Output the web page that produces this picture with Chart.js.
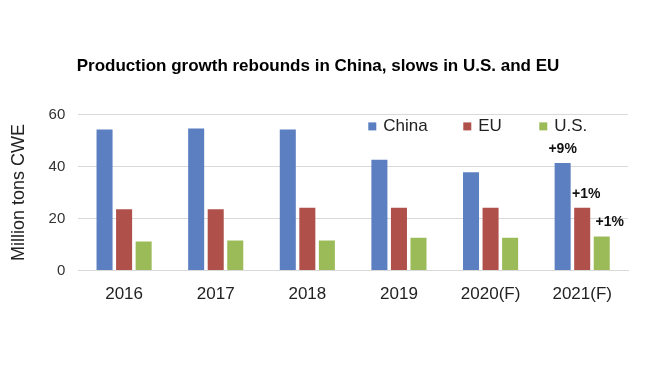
<!DOCTYPE html>
<html>
<head>
<meta charset="utf-8">
<script src="https://cdn.jsdelivr.net/npm/chart.js@4/dist/chart.umd.min.js"></script>
<style>
  body { margin: 0; background: #fff; }
  #wrap { width: 650px; height: 366px; }
</style>
</head>
<body>
<div id="wrap"><canvas id="chart" width="650" height="366"></canvas></div>
<script>
// chart data
const years = ['2016', '2017', '2018', '2019', '2020(F)', '2021(F)'];
const china = [54.2, 54.6, 54.2, 42.6, 37.8, 41.3];
const eu = [23.6, 23.6, 24.1, 24.1, 24.1, 24.1];
const us = [11.2, 11.6, 11.6, 12.6, 12.6, 13.1];
const chinaNotes = ['', '', '', '', '', '+9%'];
const euNotes = ['', '', '', '', '', '+1%'];
const usNotes = ['', '', '', '', '', '+1%'];
const yTicks = [0, 20, 40, 60];

const font = "'Liberation Sans', Arial, sans-serif";

// legend drawn inside the plot, top right
const insideLegend = {
    id: 'insideLegend',
    afterDraw(chart) {
        const ctx = chart.ctx;
        const area = chart.chartArea;
        const y = area.top + 12;
        const xs = [area.left + 290, area.left + 385, area.left + 461];
        ctx.save();
        ctx.font = '17px ' + font;
        ctx.textBaseline = 'middle';
        chart.data.datasets.forEach(function(ds, i) {
            ctx.fillStyle = ds.backgroundColor;
            ctx.fillRect(xs[i], y - 4, 8, 8);
            ctx.fillStyle = '#222';
            ctx.fillText(ds.label, xs[i] + 15, y);
        });
        ctx.restore();
    }
};

// growth notes above the 2021 bars
const barNotes = {
    id: 'barNotes',
    afterDatasetsDraw(chart) {
        const ctx = chart.ctx;
        const notes = [chinaNotes, euNotes, usNotes];
        const shift = [0, 4, 8];
        ctx.save();
        ctx.font = 'bold 14px ' + font;
        ctx.fillStyle = '#111';
        ctx.textAlign = 'center';
        ctx.textBaseline = 'bottom';
        notes.forEach(function(list, i) {
            const meta = chart.getDatasetMeta(i);
            list.forEach(function(txt, j) {
                if (!txt) return;
                const bar = meta.data[j];
                ctx.fillText(txt, bar.x + shift[i], bar.y - 7);
            });
        });
        ctx.restore();
    }
};

const ctx = document.getElementById('chart').getContext('2d');
const chart = new Chart(ctx, {
    type: 'bar',
    data: {
        labels: years,
        datasets: [
            { label: 'China', data: china, backgroundColor: '#5B7FC1' },
            { label: 'EU', data: eu, backgroundColor: '#B0504B' },
            { label: 'U.S.', data: us, backgroundColor: '#9BBB59' }
        ]
    },
    options: {
        responsive: false,
        animation: false,
        layout: { padding: { top: 0, right: 22, bottom: 55, left: 8 } },
        datasets: {
            bar: { categoryPercentage: 0.64, barPercentage: 0.82 }
        },
        plugins: {
            legend: { display: false },
            tooltip: { enabled: false },
            title: {
                display: true,
                text: 'Production growth rebounds in China, slows in U.S. and EU',
                color: '#000',
                font: { family: font, size: 17, weight: 'bold' },
                padding: { top: 56, bottom: 38 }
            }
        },
        scales: {
            x: {
                grid: { display: false },
                border: { color: '#d9d9d9' },
                ticks: { color: '#222', font: { family: font, size: 17 }, padding: 6 }
            },
            y: {
                min: 0,
                max: 60,
                afterBuildTicks: function(axis) {
                    axis.ticks = yTicks.map(function(v) { return { value: v }; });
                },
                grid: { color: '#d9d9d9', drawTicks: false },
                border: { display: false },
                ticks: { color: '#333', font: { family: font, size: 15 }, padding: 13 },
                title: {
                    display: true,
                    text: 'Million tons CWE',
                    color: '#222',
                    font: { family: font, size: 18 },
                    padding: { top: 0, bottom: 6 }
                }
            }
        }
    },
    plugins: [insideLegend, barNotes]
});
</script>
</body>
</html>
